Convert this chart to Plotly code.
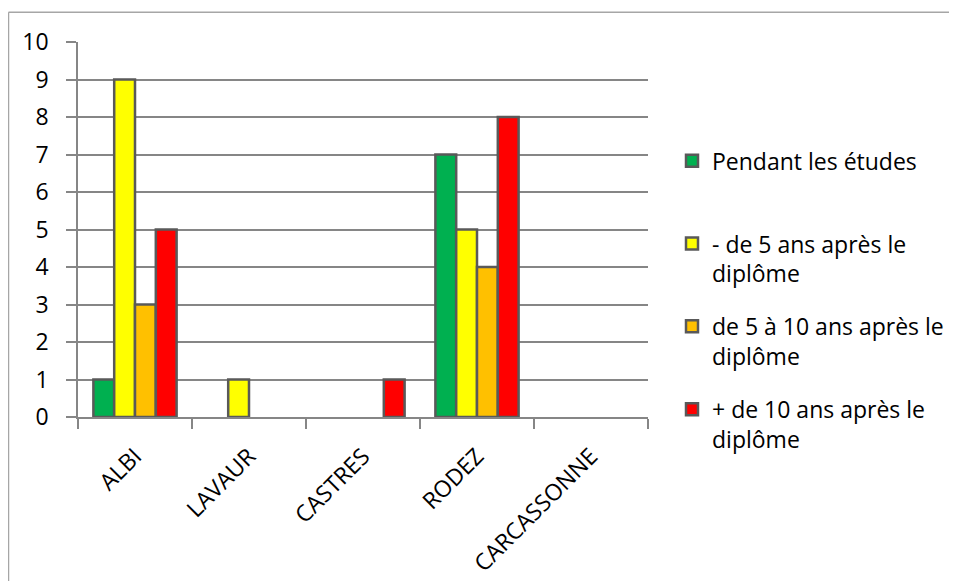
import plotly.graph_objects as go

categories = ["ALBI", "LAVAUR", "CASTRES", "RODEZ", "CARCASSONNE"]
series_names = [
    "Pendant les études<br> ",
    "- de 5 ans après le<br>diplôme",
    "de 5 à 10 ans après le<br>diplôme",
    "+ de 10 ans après le<br>diplôme",
]
pendant = [1, 0, 0, 7, 0]
moins5 = [9, 1, 0, 5, 0]
de5a10 = [3, 0, 0, 4, 0]
plus10 = [5, 0, 1, 8, 0]
colors = ["#00B050", "#FFFF00", "#FFC000", "#FF0000"]
y_ticks = list(range(0, 11))

FONT = "Open Sans"
FS = 23

fig = go.Figure()
for i, (name, vals) in enumerate(zip(series_names, [pendant, moins5, de5a10, plus10])):
    fig.add_trace(go.Bar(
        x=categories, y=[v if v != 0 else None for v in vals], name=name,
        marker=dict(color=colors[i], line=dict(color="#595959", width=2.5)),
        legendgroup=f"g{i}",
    ))

OFF = 8  # page body margin
W, H = 957 - OFF, 581 - OFF
L, R, T, B = 78 - OFF, 648 - OFF, 41.7 - OFF, 416.7 - OFF
pw, ph = R - L, B - T

def px_x(sx):
    return (sx - OFF - L) / pw

def px_y(sy):
    return (B - (sy - OFF)) / ph

fig.update_layout(
    width=W, height=H,
    margin=dict(l=L, r=W - R, t=T, b=H - B, pad=0, autoexpand=False),
    paper_bgcolor="white", plot_bgcolor="white",
    barmode="group", bargap=0.27, bargroupgap=0,
    font=dict(family=FONT, size=FS, color="#000000"),
    showlegend=True,
    legend=dict(
        x=px_x(672), y=px_y(139), xanchor="left", yanchor="top",
        font=dict(family=FONT, size=FS, color="#000000"),
        valign="top", tracegroupgap=20, traceorder="grouped",
        bgcolor="rgba(0,0,0,0)",
    ),
    xaxis=dict(
        type="category", tickson="boundaries", ticks="outside", ticklen=10,
        tickcolor="#868686", tickwidth=1.5, tickangle=-45,
        showline=True, linecolor="#868686", linewidth=1.5,
        showgrid=False, tickfont=dict(family=FONT, size=FS),
        range=[-0.5, 4.5], ticklabelstandoff=15, automargin=False,
    ),
    yaxis=dict(
        range=[0, 10], tickvals=y_ticks, ticks="outside", ticklen=10,
        tickcolor="#868686", tickwidth=1.5,
        showline=True, linecolor="#868686", linewidth=1.5,
        showgrid=True, gridcolor="#868686", gridwidth=1.5,
        zeroline=False, tickfont=dict(family=FONT, size=FS),
        ticklabelstandoff=13, automargin=False,
    ),
    shapes=[
        dict(type="line", xref="paper", yref="paper",
             x0=px_x(8.5), x1=px_x(965), y0=px_y(12), y1=px_y(12),
             line=dict(color="#A6A6A6", width=1.5)),
        dict(type="line", xref="paper", yref="paper",
             x0=px_x(8.5), x1=px_x(8.5), y0=px_y(12), y1=px_y(600),
             line=dict(color="#A6A6A6", width=1.5)),
    ],
)

fig.write_html("out.html")
